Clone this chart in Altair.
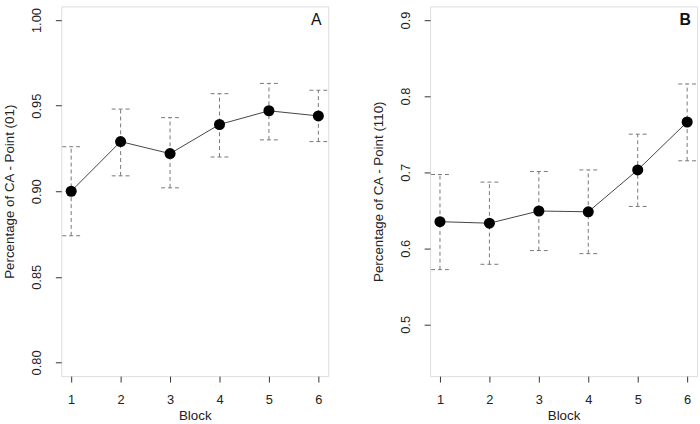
import altair as alt
import pandas as pd

blocks = [1, 2, 3, 4, 5, 6]
a_mean = [0.900, 0.929, 0.922, 0.939, 0.947, 0.944]
a_upper = [0.926, 0.948, 0.943, 0.957, 0.963, 0.959]
a_lower = [0.874, 0.909, 0.902, 0.920, 0.930, 0.929]
b_mean = [0.635, 0.633, 0.649, 0.648, 0.703, 0.766]
b_upper = [0.697, 0.687, 0.701, 0.703, 0.750, 0.816]
b_lower = [0.572, 0.579, 0.597, 0.593, 0.655, 0.715]

a_ticks = [0.80, 0.85, 0.90, 0.95, 1.00]
b_ticks = [0.5, 0.6, 0.7, 0.8, 0.9]
x_ticks = [1, 2, 3, 4, 5, 6]

FONT = "Liberation Sans"
TXT = "#222222"
W, H = 270, 374


def panel(mean, upper, lower, ydom, yticks, yfmt, ytitle, letter, bold):
    df = pd.DataFrame({"block": blocks, "mean": mean, "upper": upper, "lower": lower})
    base = alt.Chart(df)
    xenc = alt.X(
        "block:Q",
        scale=alt.Scale(domain=[0.8, 6.2], nice=False, zero=False),
        axis=alt.Axis(
            values=x_ticks, format="d", title="Block", domain=False, grid=False,
            tickSize=6, tickColor="#333333", labelFontSize=13, labelFont=FONT,
            labelColor=TXT, labelPadding=12, titleFont=FONT, titleFontSize=13.5,
            titleFontWeight="normal", titleColor=TXT, titleBaseline="top",
            titleY=33, titleX=W / 2,
        ),
    )
    yscale = alt.Scale(domain=ydom, nice=False, zero=False)
    yaxis = alt.Axis(
        values=yticks, format=yfmt, title=ytitle, domain=False, grid=False,
        tickSize=6, tickColor="#333333", labelFontSize=13, labelFont=FONT,
        labelColor=TXT, labelAngle=-90, labelAlign="center", labelBaseline="bottom",
        labelPadding=12, titleFont=FONT, titleFontSize=13.5,
        titleFontWeight="normal", titleColor=TXT, titleAngle=-90,
        titleBaseline="middle", titleAlign="center", titleX=-52, titleY=H / 2,
    )
    bars = base.mark_rule(color="#777777", strokeDash=[4, 3], strokeWidth=1).encode(
        x=xenc, y=alt.Y("lower:Q", scale=yscale, axis=yaxis), y2="upper:Q"
    )
    cap_hi = base.mark_rule(
        color="#777777", strokeDash=[4, 3], strokeWidth=1, xOffset=-9, x2Offset=9
    ).encode(x="block:Q", x2="block:Q", y="upper:Q")
    cap_lo = base.mark_rule(
        color="#777777", strokeDash=[4, 3], strokeWidth=1, xOffset=-9, x2Offset=9
    ).encode(x="block:Q", x2="block:Q", y="lower:Q")
    line = base.mark_line(color="#444444", strokeWidth=1).encode(x="block:Q", y="mean:Q")
    pts = base.mark_point(filled=True, color="black", opacity=1, size=125).encode(
        x="block:Q", y="mean:Q"
    )
    lab = alt.Chart(pd.DataFrame({"t": [letter]})).mark_text(
        font=FONT, fontSize=16, fontWeight="bold" if bold else "normal",
        color="#111111", align="center", baseline="middle",
    ).encode(text="t:N", x=alt.value(W - 12), y=alt.value(14))
    return alt.layer(bars, cap_hi, cap_lo, line, pts, lab).properties(width=W, height=H)


pa = panel(a_mean, a_upper, a_lower, [0.792, 1.008], a_ticks, ".2f",
           "Percentage of CA - Point (01)", "A", False)
pb = panel(b_mean, b_upper, b_lower, [0.432, 0.918], b_ticks, ".1f",
           "Percentage of CA - Point (110)", "B", True)

chart = alt.hconcat(pa, pb, spacing=42).properties(
    padding={"left": 2, "top": 3, "right": 2, "bottom": 0}
).configure_view(stroke="#333333", strokeWidth=1).configure(background="white")

chart.save("out.html", embed_options={"renderer": "svg", "actions": False})
